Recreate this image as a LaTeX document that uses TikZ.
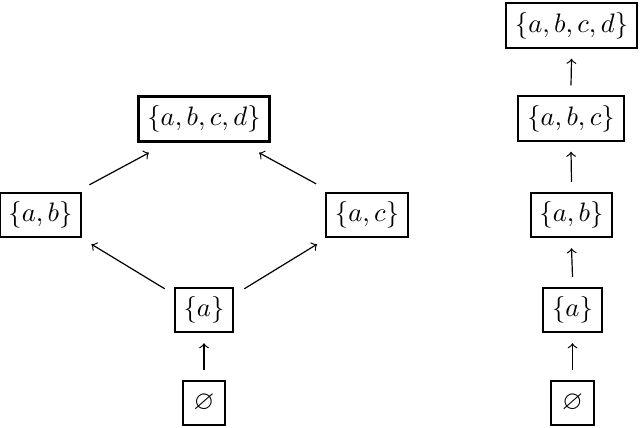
\documentclass[tikz,border=0pt]{standalone}
\usepackage{amssymb}
\begin{document}
\begin{tikzpicture}[x=0.375pt,y=-0.375pt,
  setbox/.style={draw,line width=0.75pt,inner sep=3.33pt,text height=7.5pt,text depth=2.5pt,minimum height=16.3pt},
  topbox/.style={setbox,line width=1.15pt},
  arr/.style={->,line width=0.45pt}]
\useasboundingbox (0,0) rectangle (640,427);
% left lattice
\node[topbox] (T) at (204,119) {$\{a,b,c,d\}$};
\node[setbox] (AB) at (40.5,215) {$\{a,b\}$};
\node[setbox] (AC) at (367,215) {$\{a,c\}$};
\node[setbox] (A) at (204,310) {$\{a\}$};
\node[setbox,minimum width=16pt] (E) at (204,403) {$\varnothing$};
\draw[arr] ([shift={(0,-10)}]E.north) -- ([shift={(0,10)}]A.south);
\draw[arr] ([shift={(-9,2)}]A.north west) -- ([shift={(9,6)}]AB.south east);
\draw[arr] ([shift={(10,2)}]A.north east) -- ([shift={(-8,6)}]AC.south west);
\draw[arr] ([shift={(7,-7)}]AB.north east) -- ([shift={(12,10)}]T.south west);
\draw[arr] ([shift={(-9,-8)}]AC.north west) -- ([shift={(-12,10)}]T.south east);
% right chain
\node[setbox] (R4) at (571.5,25.5) {$\{a,b,c,d\}$};
\node[setbox] (R3) at (571,118.5) {$\{a,b,c\}$};
\node[setbox] (R2) at (571.5,215) {$\{a,b\}$};
\node[setbox] (R1) at (572.5,310) {$\{a\}$};
\node[setbox,minimum width=16pt] (R0) at (572.5,403) {$\varnothing$};
\draw[arr] ([shift={(0,-10)}]R0.north) -- ([shift={(0,10)}]R1.south);
\draw[arr] ([shift={(0,-10)}]R1.north) -- ([shift={(0,10)}]R2.south);
\draw[arr] ([shift={(0,-10)}]R2.north) -- ([shift={(0,10)}]R3.south);
\draw[arr] ([shift={(0,-10)}]R3.north) -- ([shift={(0,10)}]R4.south);
\end{tikzpicture}
\end{document}
